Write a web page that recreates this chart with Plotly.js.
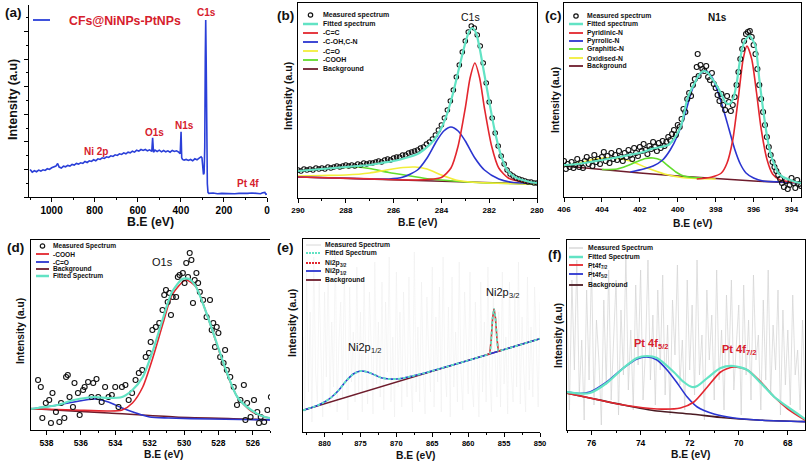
<!DOCTYPE html>
<html><head><meta charset="utf-8">
<script src="https://cdn.plot.ly/plotly-3.0.1.min.js"></script>
<style>html,body{margin:0;padding:0;background:#fff}#chart{width:810px;height:467px}</style>
</head><body><div id="chart"></div>
<script>
// ================= DATA =================
// (a) survey spectrum
const aEV = [1100,1090,1080,1070,1060,1050,1040,1030,1020,1010,1000,990,980,972,965,955,945,935,925,915,905,895,885,875,865,855,845,835,825,815,805,795,785,775,765,755,745,735,725,715,705,695,685,675,665,655,645,635,625,615,605,595,585,575,565,555,545,535,531,527,520,510,500,490,480,470,460,450,440,430,420,410,403,399,396,392,385,375,365,355,345,335,325,315,306,302,298,295,292,289,286.5,284.5,282.5,280,277,274,270,250,230,210,190,170,150,130,110,90,70,50,30,20,10,5,0];
const aInt = [83,75,79,76,81,78,82,80,85,83,88,90,93,101,90,87,93,91,95,93,98,96,101,99,103,101,107,104,109,107,112,109,115,113,118,116,121,119,124,122,127,125,130,128,133,130,135,133,138,135,141,138,143,140,143,139,142,137,178,135,141,137,141,136,140,136,139,135,140,137,139,135,130,196,118,113,111,113,110,113,109,115,112,117,121,118,90,68,72,150,420,533,420,150,40,14,11,12,10,11,10,11,10,11,10,11,12,11,10,13,14,8,9];
const aLegend = ['CFs@NiNPs-PtNPs'];
const aPeakLabels = ['C1s','O1s','N1s','Ni 2p','Pt 4f'];

// (b) C1s
const bMeasEV = [290,289.875,289.75,289.625,289.5,289.375,289.25,289.125,289,288.875,288.75,288.625,288.5,288.375,288.25,288.125,288,287.875,287.75,287.625,287.5,287.375,287.25,287.125,287,286.875,286.75,286.625,286.5,286.375,286.25,286.125,286,285.875,285.75,285.625,285.5,285.375,285.25,285.125,285,284.875,284.75,284.625,284.5,284.375,284.25,284.125,284,283.875,283.75,283.625,283.5,283.375,283.25,283.125,283,282.875,282.75,282.625,282.5,282.375,282.25,282.125,282,281.875,281.75,281.625,281.5,281.375,281.25,281.125,281,280.875,280.75,280.625,280.5,280.375,280.25,280.125,280];
const bMeas = [28,27,29,28,29,28,30,29,30,29,31,30,31,32,31,32,33,32,33,32,34,33,35,34,35,35,36,37,36,38,39,38,40,41,41,43,43,45,46,47,48,50,51,54,56,59,63,68,73,80,88,97,108,121,133,146,157,166,172,170,163,152,135,115,96,80,65,52,42,34,28,24,22,20,19,18,17,16,16,15,15];
const bFitEV = [290,289.5,289,288.5,288,287.5,287,286.5,286,285.5,285,284.75,284.5,284.25,284,283.75,283.5,283.25,283,282.85,282.7,282.55,282.4,282.25,282.1,281.95,281.8,281.65,281.5,281.3,281.1,280.85,280.6,280.3,280];
const bFit = [27,28,29,30,31,32,33,35,37,40,44,48,53,60,70,85,106,131,155,166,170,165,150,130,110,90,71,55,42,30,24,20,18,16,15];
const bCCEV = [290,287,285.2,284.6,284.0,283.6,283.3,283.0,282.8,282.6,282.4,282.2,281.9,281.6,281.2,280.6,280];
const bCC = [21,19.1,18,18.5,20.5,30,52,90,120,135,120,90,52,30,20,16,14.5];
const bCOHEV = [290,287.5,286.2,285.6,285.0,284.6,284.2,283.9,283.6,283.3,283.0,282.6,282.2,281.6,281,280];
const bCOH = [21,19.5,19,21,28,40,57,67,71,67,57,40,28,19,15.5,14.5];
const bCOEV = [290,289,288,287,286.3,285.6,285.1,284.6,284.0,283.4,282.8,282,280];
const bCO = [22,22.5,23,25,28,30.5,31,29,23,18,16,15,14];
const bCOOHEV = [290,289,288,287.5,287,286.2,285.3,284.5,283.5,282.5,281,280];
const bCOOH = [27,29,30.5,31,29.5,25.5,22,19,17,15.5,14.5,14];
const bBgEV = [290,280];
const bBg = [21,14];
const bNames = ['Measured spectrum','Fitted spectrum','-C=C','-C-OH,C-N','-C=O','-COOH','Background'];

// (c) N1s
const cMeasEV = [406.0,405.9,405.8,405.7,405.6,405.5,405.4,405.3,405.2,405.1,405.0,404.9,404.8,404.7,404.6,404.5,404.4,404.3,404.2,404.1,404.0,403.9,403.8,403.7,403.6,403.5,403.4,403.3,403.2,403.1,403.0,402.9,402.8,402.7,402.6,402.5,402.4,402.3,402.2,402.1,402.0,401.9,401.8,401.7,401.6,401.5,401.4,401.3,401.2,401.1,401.0,400.9,400.8,400.7,400.6,400.5,400.4,400.3,400.2,400.1,400.0,399.9,399.8,399.7,399.6,399.5,399.4,399.3,399.2,399.1,399.0,398.95,398.9,398.8,398.7,398.6,398.5,398.4,398.3,398.2,398.1,398.0,397.9,397.8,397.7,397.6,397.5,397.4,397.3,397.2,397.1,397.0,396.9,396.8,396.7,396.6,396.5,396.4,396.3,396.2,396.1,396.0,395.9,395.8,395.7,395.6,395.5,395.4,395.3,395.2,395.1,395.0,394.9,394.8,394.7,394.6,394.5,394.4,394.3,394.2,394.1,394.0,393.9,393.8,393.7,393.6,393.5];
const cMeas = [36,28,33,30,35,29,32,38,30,34,29,36,40,33,37,31,42,35,38,33,40,45,36,41,34,44,38,42,37,46,40,36,44,40,47,42,38,49,44,41,50,46,53,47,43,51,48,55,50,46,54,49,56,51,55,60,57,63,67,62,72,70,78,88,85,98,104,101,112,118,130,143,121,132,128,126,131,120,117,124,113,109,102,96,103,92,87,101,95,86,92,100,112,125,138,148,156,163,165,166,160,152,143,128,112,98,85,72,60,50,42,35,30,26,22,18,14,10,16,8,12,19,14,9,17,13,11];
const cFitEV = [406,405.3,404.6,404,403.4,402.8,402.3,401.8,401.4,400.9,400.5,400.2,399.95,399.8,399.65,399.5,399.3,399.1,398.95,398.8,398.6,398.4,398.25,398.1,397.9,397.7,397.5,397.35,397.2,397.05,396.9,396.7,396.55,396.4,396.2,396.05,395.9,395.7,395.55,395.4,395.25,395.1,394.9,394.7,394.45,394.2,393.8,393.5];
const cFit = [32,33,35,37,39,41,43,45,48,50,52,58,66,73,85,98,107,114,120,124,126,124,120,116,110,103,95,93,94,100,113,139,152,158,161,157,151,118,95,74,56,43,32,24,20,18,15,14];
const cPyridEV = [399,398.2,397.7,397.4,397.1,396.8,396.55,396.35,396.1,395.85,395.6,395.3,395.0,394.6,394,393.5];
const cPyrid = [18,20,24,34,57,100,138,151,138,105,68,38,23,17,15,14];
const cPyrrEV = [402.5,401.8,401.3,400.8,400.4,400,399.6,399.3,399,398.7,398.5,398.2,397.9,397.6,397.3,397,396.7,396.4,396,395.5,394.5,393.5];
const cPyrr = [25,28,31,37,47,62,84,104,118,125,126,120,106,88,68,48,33,24,19,16,15,14];
const cGraphEV = [404,403.2,402.7,402.2,401.7,401.3,400.9,400.5,400.1,399.7,399.2,398.7];
const cGraph = [27.5,28,31,35,38.5,39,37,31,25,21,19.5,19];
const cOxEV = [406,405.2,404.3,403.4,402.5,401.6,400.7,399.8,399,398];
const cOx = [31,34,38,39,36,29,23,19.5,18.5,18];
const cBgEV = [406,404,402,400,398,396,393.5];
const cBg = [31,27.5,24,21,18.5,16,14];
const cNames = ['Measured spectrum','Fitted spectrum','Pyridinic-N','Pyrrolic-N','Graphitic-N','Oxidised-N','Background'];

// (d) O1s
const dMeasEV = [538.49,538.33,538.24,538.04,537.84,537.74,537.65,537.45,537.25,537.15,536.96,536.86,536.76,536.66,536.46,536.37,536.17,536.07,535.87,535.78,535.58,535.38,535.28,535.09,534.99,534.79,534.59,534.39,534.20,534.00,533.81,533.61,533.41,533.22,533.02,532.82,532.63,532.43,532.23,532.04,531.94,531.84,531.64,531.44,531.25,531.15,531.05,530.95,530.85,530.76,530.66,530.46,530.36,530.26,530.07,529.97,529.87,529.77,529.67,529.57,529.48,529.38,529.28,529.18,529.08,528.89,528.69,528.49,528.39,528.30,528.20,528.10,528.00,527.90,527.70,527.61,527.51,527.31,527.11,526.92,526.72,526.52,526.43,526.33,526.13,525.93,525.74,525.64,525.54,525.34,525.15,524.95,524.75];
const dMeas = [50,43,12,27,30,7,37,18,8,27,12,53,55,33,23,47,37,15,40,43,48,33,47,51,33,28,43,33,35,43,23,43,45,30,37,50,57,60,73,77,88,100,103,107,120,135,140,128,137,115,133,133,153,155,157,147,167,153,177,170,127,150,157,147,138,130,113,130,100,107,83,103,97,73,67,80,60,53,43,25,30,45,10,27,13,30,18,7,13,8,20,33,13];
const dFitEV = [538.9,538.5,537.35,536.4,535.2,534.4,533.6,533.0,532.4,531.8,531.2,530.7,530.1,529.7,529.3,528.7,528.1,527.5,526.9,526.1,525.3,524.6];
const dFit = [21,22,25,30,33,32,33,40,53,80,113,138,151,151,143,117,87,57,33,20,13,11];
const dCOOHEV = [538.9,538.5,536.4,534.4,533.6,533.0,532.4,531.8,531.2,530.7,529.9,529.3,528.7,528.1,527.5,526.9,526.1,525.3,524.6];
const dCOOH = [21,21,20,19,20,27,43,73,108,135,150,143,117,86,56,33,19,13,11];
const dCOEV = [538.9,538.5,537.35,536.4,535.2,534.4,533.6,532.8,532.0,530.9,528.5,524.6];
const dCO = [21,22,25,28,31,28,22,17,13,12,11,10];
const dBgEV = [538.9,538.5,534.4,530.5,526.6,524.6];
const dBg = [21.5,21,17,13,11,10];
const dNames = ['Measured Spectrum','-COOH','-C=O','Background','Fitted Spectrum'];

// (e) Ni2p
const eMeasEV = [883,882.75,882.5,882.25,882,881.75,881.5,881.25,881,880.75,880.5,880.25,880,879.75,879.5,879.25,879,878.75,878.5,878.25,878,877.75,877.5,877.25,877,876.75,876.5,876.25,876,875.75,875.5,875.25,875,874.75,874.5,874.25,874,873.75,873.5,873.25,873,872.75,872.5,872.25,872,871.75,871.5,871.25,871,870.75,870.5,870.25,870,869.75,869.5,869.25,869,868.75,868.5,868.25,868,867.75,867.5,867.25,867,866.75,866.5,866.25,866,865.75,865.5,865.25,865,864.75,864.5,864.25,864,863.75,863.5,863.25,863,862.75,862.5,862.25,862,861.75,861.5,861.25,861,860.75,860.5,860.25,860,859.75,859.5,859.25,859,858.75,858.5,858.25,858,857.75,857.5,857.25,857,856.75,856.5,856.25,856,855.75,855.5,855.25,855,854.75,854.5,854.25,854,853.75,853.5,853.25,853,852.75,852.5,852.25,852,851.75,851.5,851.25,851,850.75,850.5,850.25,850];
const eMeas = [95,20,160,40,120,10,175,60,30,150,80,15,140,55,170,25,110,45,185,20,90,130,35,160,70,12,145,50,100,30,165,40,120,20,155,65,28,140,85,18,170,48,110,35,150,22,130,60,175,30,95,15,160,45,120,25,140,70,35,155,55,20,180,40,105,30,150,60,18,135,80,40,165,25,115,50,145,20,175,65,35,125,15,155,45,100,30,170,60,22,140,90,38,160,50,25,130,70,15,150,40,110,30,165,55,20,140,75,35,120,25,160,48,95,18,150,62,30,135,45,170,28,115,60,20,155,42,105,35,145,70,25,130];
const eFitEV = [883,881,880,879,878,877,876,875,874,873,872,871,870,869,868,866,864,860,858,857,856.8,856.6,856.4,856.2,856,855.8,855,852,850];
const eFit = [21.7,26.5,30,35,42,51,58,61,60,57,54,53,53,54,55.6,59,63.2,71.6,76,78.1,92,114,123,114,94,81,82.4,88.9,93.3];
const eP12EV = [883,881,880,879,878,877,876,875,874,873,872,871,870,869,868,866,864,860,856,850];
const eP12 = [21.7,26.5,30,35,42,51,58,61,60,57,54,53,53,54,55.6,59,63.2,71.6,80.3,93.3];
const eP32EV = [857.5,857,856.8,856.6,856.4,856.2,856,855.8,855.3];
const eP32 = [77.1,78.2,92,114,123,114,94,81,81.9];
const eBgEV = [883,850];
const eBg = [21.7,93.3];
const eNames = ['Measured Spectrum','Fitted Spectrum','Ni2p<sub>3/2</sub>','Ni2p<sub>1/2</sub>','Background'];
const ePeakLabels = ['Ni2p<sub>3/2</sub>','Ni2p<sub>1/2</sub>'];

// (f) Pt4f
const fMeasEV = [77,76.9,76.8,76.7,76.6,76.5,76.4,76.3,76.2,76.1,76,75.9,75.8,75.7,75.6,75.5,75.4,75.3,75.2,75.1,75,74.9,74.8,74.7,74.6,74.5,74.4,74.3,74.2,74.1,74,73.9,73.8,73.7,73.6,73.5,73.4,73.3,73.2,73.1,73,72.9,72.8,72.7,72.6,72.5,72.4,72.3,72.2,72.1,72,71.9,71.8,71.7,71.6,71.5,71.4,71.3,71.2,71.1,71,70.9,70.8,70.7,70.6,70.5,70.4,70.3,70.2,70.1,70,69.9,69.8,69.7,69.6,69.5,69.4,69.3,69.2,69.1,69,68.9,68.8,68.7,68.6,68.5,68.4,68.3,68.2,68.1,68,67.9,67.8,67.7,67.6,67.5,67.4,67.3];
const fMeas = [120,20,150,60,170,35,90,10,140,50,165,25,110,70,5,130,45,160,30,95,150,15,120,55,175,40,100,20,145,65,160,30,80,170,50,115,25,140,60,155,35,105,15,130,75,165,45,90,20,150,60,125,35,170,55,95,10,140,70,115,30,160,50,100,20,135,65,150,40,85,125,15,145,55,110,30,155,70,95,20,130,50,160,35,105,60,140,15,120,45,100,25,135,55,80,20,110,40];
const fFitEV = [77.03,76.5,76.07,75.38,74.70,74.15,73.74,73.33,72.65,72.24,71.9,71.69,71.28,70.74,70.22,69.65,69.10,68.55,68.0,67.24];
const fFit = [38,36.5,37,47,62,72,74,72,58,48,43,44,52,62,64,60,47,33,23,10];
const fP72EV = [77.03,75.5,74.70,73.33,72.38,71.83,71.28,70.74,70.22,69.65,69.10,68.55,68.0,67.24];
const fP72 = [37,29,25,21,22,28,43,58,63,60,48,33,21,9];
const fP52EV = [77.03,76.5,76.07,75.38,74.70,74.15,73.74,73.33,72.92,72.51,72.10,71.69,71.01,70.19,69.23,67.24];
const fP52 = [38,36.5,38,48,62,71,73,70,60,47,33,23,16,12,10,8.3];
const fBgEV = [77.03,76.07,74.70,73.33,71.96,70.60,69.23,67.24];
const fBg = [37,32,25,19,16,12.3,10,8.3];
const fNames = ['Measured Spectrum','Fitted Spectrum','Pt4f<sub>7/2</sub>','Pt4f<sub>5/2</sub>','Background'];
const fPeakLabels = ['Pt 4f<sub>5/2</sub>','Pt 4f<sub>7/2</sub>'];

const panelLetters = ['(a)','(b)','(c)','(d)','(e)','(f)'];

// ================= STYLE / LAYOUT =================
const FONT = 'Arial, "Liberation Sans", Helvetica, sans-serif';
const W = 810, H = 467;
const PX = x => x / W, PY = y => 1 - y / H;
const C = {cyan:'#62e3c4', red:'#e3262e', blue:'#2b35d0', yellow:'#f2ee3a', green:'#62dd2c', bg:'#6e1c2c', black:'#111'};

// plot boxes in px: [left, top, right, bottom]
const box = {a:[29,5,267,197], b:[298,3,537,198], c:[564,3,801,197], d:[31,240,270,430], e:[303,239,540,432], f:[567,240,805,430]};

const traces = [];
function line(x, y, ax, color, width, opts) {
  opts = opts || {};
  traces.push({x:x, y:y, xaxis:'x'+ax, yaxis:'y'+ax, type:'scatter', mode:'lines', hoverinfo:'skip',
    line:{color:color, width:width, shape:opts.shape||'spline', smoothing:opts.smoothing||0.7, dash:opts.dash||'solid'}});
}
function pts(x, y, ax, size) {
  traces.push({x:x, y:y, xaxis:'x'+ax, yaxis:'y'+ax, type:'scatter', mode:'markers', hoverinfo:'skip',
    marker:{symbol:'circle-open', size:size, color:C.black, line:{width:1.1, color:C.black}}});
}

// (a)
line(aEV, aInt, '', '#2a3fd8', 1.6, {shape:'linear'});
// (b)
line(bBgEV, bBg, '2', C.bg, 1.6, {shape:'linear'});
line(bCOOHEV, bCOOH, '2', C.green, 1.6);
line(bCOEV, bCO, '2', C.yellow, 1.6);
line(bCOHEV, bCOH, '2', C.blue, 1.6);
line(bCCEV, bCC, '2', C.red, 1.6);
pts(bMeasEV, bMeas, '2', 4.5);
line(bFitEV, bFit, '2', C.cyan, 2.2);
// (c)
line(cBgEV, cBg, '3', C.bg, 1.6);
line(cOxEV, cOx, '3', C.yellow, 1.6);
line(cGraphEV, cGraph, '3', C.green, 1.6);
line(cPyrrEV, cPyrr, '3', C.blue, 1.6);
line(cPyridEV, cPyrid, '3', C.red, 1.6);
pts(cMeasEV, cMeas, '3', 5);
line(cFitEV, cFit, '3', C.cyan, 2.2);
// (d)
line(dBgEV, dBg, '4', C.bg, 1.6);
line(dCOEV, dCO, '4', C.blue, 1.6);
line(dCOOHEV, dCOOH, '4', C.red, 1.6);
pts(dMeasEV, dMeas, '4', 5);
line(dFitEV, dFit, '4', C.cyan, 2.2);
// (e)
line(eMeasEV, eMeas, '5', '#ececec', 0.5, {shape:'linear'});
line(eBgEV, eBg, '5', C.bg, 1.6, {shape:'linear'});
line(eP12EV, eP12, '5', C.blue, 1.6);
line(eP32EV, eP32, '5', C.red, 1.6, {shape:'linear'});
line(eFitEV, eFit, '5', C.cyan, 1.8, {dash:'3px,2px', smoothing:0.4});
// (f)
line(fMeasEV, fMeas, '6', '#d3d3d3', 0.7, {shape:'linear'});
line(fBgEV, fBg, '6', '#4a1a22', 1.6);
line(fP52EV, fP52, '6', C.blue, 1.6);
line(fP72EV, fP72, '6', C.red, 1.6);
line(fFitEV, fFit, '6', C.cyan, 2.2);

const layout = {width:W, height:H, margin:{l:0,r:0,t:0,b:0}, paper_bgcolor:'#fff', plot_bgcolor:'rgba(0,0,0,0)', showlegend:false, font:{family:FONT}};
const axBase = {showgrid:false, zeroline:false, showline:true, linecolor:'#000', linewidth:1.4, fixedrange:true};
function setAxes(key, k, xr, yr, dtick, tick0, minor, fs, mirrorX, mirrorY, yTicks) {
  const b = box[k];
  layout['xaxis'+key] = Object.assign({}, axBase, {domain:[PX(b[0]), PX(b[2])], anchor:'y'+key, range:xr, tick0:tick0, dtick:dtick,
    ticks:'outside', ticklen:4, tickwidth:1, tickcolor:'#000', mirror:mirrorX,
    minor:{dtick:minor, ticks:'outside', ticklen:2, tickwidth:1, tickcolor:'#000'},
    tickfont:{family:FONT, size:fs, color:'#000', weight:'bold'}});
  const y = Object.assign({}, axBase, {domain:[PY(b[3]), PY(b[1])], anchor:'x'+key, range:yr, showticklabels:false, mirror:mirrorY});
  if (yTicks) Object.assign(y, {ticks:'outside', ticklen:4, tickwidth:1, tickcolor:'#000', tick0:0, dtick:yTicks, minor:{dtick:yTicks/2, ticks:'outside', ticklen:2, tickcolor:'#000'}});
  else y.ticks = '';
  layout['yaxis'+key] = y;
}
setAxes('', 'a', [1105,0], [0,578], 200, 0, 100, 10, false, false, 83);
setAxes('2','b', [290,280], [0,195], 2, 280, 1, 8, true, true);
setAxes('3','c', [406,393.5], [0,194], 2, 394, 1, 8, true, true);
setAxes('4','d', [538.9,525], [0,190], 2, 526, 1, 8.5, true, false);
setAxes('5','e', [883,850], [0,193], 5, 850, 2.5, 7.5, true, false);
setAxes('6','f', [77,67.3], [0,190], 2, 68, 1, 8.5, true, true);

const ann = [], shapes = [];
const ctx = document.createElement('canvas').getContext('2d');
function measure(t, size, bold) { ctx.font = (bold ? 'bold ' : '') + size + 'px Arial, "Liberation Sans", sans-serif'; return ctx.measureText(t).width; }
function one(t, x, y, size, opt, xa) {
  ann.push({text:t, x:PX(x), y:PY(y), xref:'paper', yref:'paper', showarrow:false, xanchor:xa, yanchor:'middle',
    textangle:opt.angle||0, font:{family:FONT, size:size, color:opt.color||'#111', weight:opt.bold===false?'normal':'bold'}});
}
// text with optional <sub>…</sub> part, drawn as two real texts (main + smaller lowered subscript)
function txt(t, x, y, size, opt) {
  opt = opt || {};
  const xa = opt.xa || 'center';
  if (t.indexOf('<sub>') < 0) { one(t, x, y, size, opt, xa); return; }
  const main = t.split('<sub>')[0], sub = t.split('<sub>')[1].replace('</sub>', '');
  const bold = opt.bold !== false, ss = size * 0.68;
  const wm = measure(main, size, bold), ws = measure(sub, ss, bold);
  const start = xa === 'left' ? x : x - (wm + ws) / 2;
  one(main, start, y, size, opt, 'left');
  one(sub, start + wm + 0.3, y + size * 0.3, ss, opt, 'left');
}
// panel letters
[[13,13],[285,15],[553,15],[15,247],[285,247],[555,254]].forEach((p,i)=>txt(panelLetters[i], p[0], p[1], 13.5));
// axis titles
[[150,222],[417,222],[692,223],[163,454],[415,455],[690,454]].forEach((p,i)=>txt('B.E (eV)', p[0], p[1], i===0?12.3:10.3));
[[13,100,12.5],[288,96,10.5],[555,100,10.2],[20,331,10.2],[292,323,10.5],[558,336,10]].forEach(p=>txt('Intensity (a.u)', p[0], p[1], p[2], {angle:-90}));
// (a) labels
const RED = '#d6202c';
shapes.push({type:'line', xref:'paper', yref:'paper', x0:PX(33), x1:PX(50), y0:PY(20), y1:PY(20), line:{color:'#2a3fd8', width:1.8}});
txt(aLegend[0], 67, 21, 12.3, {xa:'left', color:RED});
[[207,13],[154,133],[184,125],[96,151],[248,183]].forEach((p,i)=>txt(aPeakLabels[i], p[0], p[1], 10, {color:RED}));
// peak labels
txt('C1s', 470, 17, 10.5, {bold:false});
txt('N1s', 717, 18, 10);
txt('O1s', 162, 262, 11, {bold:false});
txt(ePeakLabels[0], 501, 292, 11, {bold:false});
txt(ePeakLabels[1], 363, 347, 11, {bold:false});
txt(fPeakLabels[0], 649, 343, 11, {color:RED});
txt(fPeakLabels[1], 737, 349, 11, {color:RED});

// legends
function legend(names, styles, rows, x0, x1, xt, fs) {
  names.forEach((n,i)=>{
    const y = rows[i], s = styles[i];
    if (s.circle) {
      const xc = (x0+x1)/2;
      shapes.push({type:'circle', xref:'paper', yref:'paper', x0:PX(xc-2.2), x1:PX(xc+2.2), y0:PY(y+2.2), y1:PY(y-2.2), line:{color:C.black, width:1.2}});
    } else {
      shapes.push({type:'line', xref:'paper', yref:'paper', x0:PX(x0), x1:PX(x1), y0:PY(y), y1:PY(y), line:{color:s.c, width:s.w||1.8, dash:s.d||'solid'}});
    }
    txt(n, xt, y, fs, {xa:'left'});
  });
}
const circ = {circle:true};
legend(bNames, [circ,{c:C.cyan,w:2.5},{c:C.red},{c:C.blue},{c:C.yellow},{c:C.green},{c:C.bg}], [15,24,33,42,51,60,69], 303, 318, 321, 7);
legend(cNames, [circ,{c:C.cyan,w:2.5},{c:C.red},{c:C.blue},{c:C.green},{c:C.yellow},{c:C.bg}], [16,24,33,41,49,58,66], 569, 583, 585, 6.8);
legend(dNames, [circ,{c:C.red},{c:C.blue},{c:C.bg},{c:C.cyan,w:2.5}], [246,254,262,269,276], 36, 49, 51, 6.6);
legend(eNames, [{c:'#d8d8d8',w:1},{c:C.cyan,w:2,d:'2px,1px'},{c:C.red,w:2,d:'2px,1px'},{c:C.blue},{c:C.bg}], [245,253,263,271,280], 306, 321, 323, 6.8);
legend(fNames, [{c:'#cfcfcf',w:1.2},{c:C.cyan,w:2.5},{c:C.red},{c:C.blue},{c:'#4a1a22'}], [248,257,265,274,285], 569, 583, 586, 6.8);

layout.annotations = ann;
layout.shapes = shapes;
Plotly.newPlot('chart', traces, layout, {displayModeBar:false, staticPlot:true});
</script></body></html>
